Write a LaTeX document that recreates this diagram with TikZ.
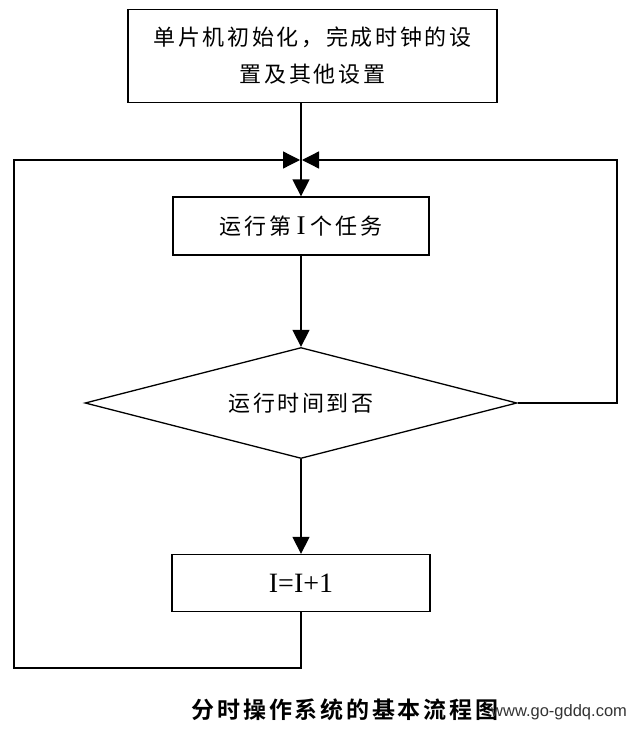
\documentclass[tikz,border=0pt]{standalone}
\usepackage{fontspec}
\setmainfont{Liberation Serif}
\newfontfamily\cjk[LetterSpace=12]{Noto Sans CJK SC}
\newfontfamily\cjkcap[LetterSpace=12]{Noto Sans CJK SC Bold}
\newfontfamily\marksf{Liberation Sans}
\usepackage{tikz}
\usetikzlibrary{arrows.meta,shapes.geometric}

\begin{document}
\begin{tikzpicture}[x=1pt,y=-1pt]
                \tikzstyle{every node}+=[inner sep=0pt]
                \tikzstyle{proc}=[draw,line width=1.3pt,rectangle,align=center,font=\fontsize{22}{37}\selectfont]
                \tikzstyle{test}=[draw,line width=1.3pt,diamond,aspect=3.9,font=\fontsize{22}{33}\selectfont]
                \tikzstyle{flow}=[line width=1.3pt,-{Triangle[length=17pt,width=17pt]}]
                \tikzstyle{wire}=[line width=1.3pt]
                \useasboundingbox (0,0) rectangle (632,733);
                \node [proc,minimum width=369pt,minimum height=93pt] (init) at (312.5,56) {\cjk 单片机初始化，完成时钟的设\\\cjk 置及其他设置};
                \node [proc,minimum width=256pt,minimum height=58pt] (task) at (301,226) {{\cjk 运行第} {\fontsize{27}{27}\selectfont I} {\cjk 个任务}};
                \node [test,minimum width=432pt,minimum height=111pt] (check) at (301,403) {\cjk 运行时间到否};
                \node [proc,minimum width=258pt,minimum height=57pt,font=\fontsize{28}{28}\selectfont] (inc) at (301,583) {I=I+1};
                \coordinate (j) at (301,160);
                \coordinate (lt) at (14,160);
                \coordinate (lb) at (14,668);
                \coordinate (rt) at (617,160);
                \coordinate (rb) at (617,403);
                \draw [wire] (j |- init.south) -- (j);
                \draw [flow] (j) -- (task);
                \draw [flow] (task) -- (check);
                \draw [flow] (check) -- (inc);
                \draw [flow] (inc) -- (inc |- lb) -- (lb) -- (lt) -- ([xshift=-1pt]j);
                \draw [flow] (check.east) -- (rb) -- (rt) -- ([xshift=1pt]j);
                \node (cap) at (345,710) {\cjkcap\fontsize{23}{23}\selectfont 分时操作系统的基本流程图};
                \node [anchor=west,text=black!80] (mark) at (491,712) {\marksf\fontsize{16.5}{16.5}\selectfont www.go-gddq.com};
            \end{tikzpicture}
\end{document}
